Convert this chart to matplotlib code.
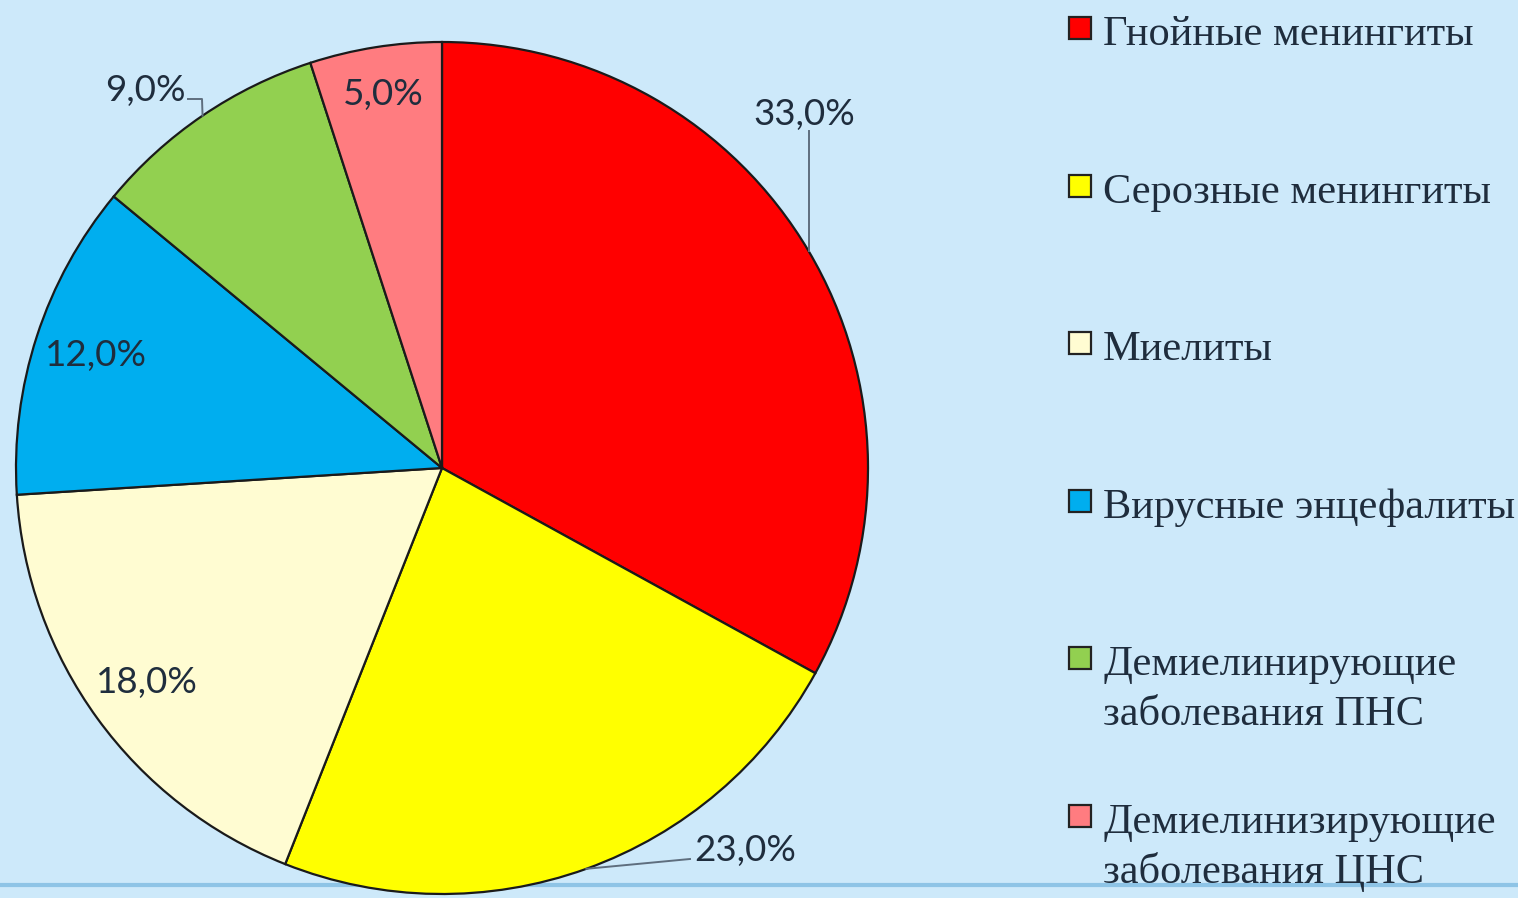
import numpy as np
import matplotlib.pyplot as plt
from matplotlib.patches import Rectangle

# -----------------------------
# data
# -----------------------------
categories = [
    "Гнойные менингиты",
    "Серозные менингиты",
    "Миелиты",
    "Вирусные энцефалиты",
    "Демиелинирующие\nзаболевания ПНС",
    "Демиелинизирующие\nзаболевания ЦНС",
]
shares = [33.0, 23.0, 18.0, 12.0, 9.0, 5.0]
colors = ["#FF0000", "#FFFF00", "#FFFCD2", "#00AEEF", "#92D050", "#FF7C80"]

# -----------------------------
# layout (pixels, y measured from top)
# -----------------------------
W, H = 1518, 898
CX, CY, R = 442, 468, 426
BG = "#CDE9FA"
TXT = "#1F2D3D"

# labels inside the wedge: fraction of radius
inside_r = {2: 0.855, 3: 0.855, 5: 0.888}
# labels outside: text centre and leader path (from wedge edge outward)
outside = {
    0: ((804, 115), [(811, 131)]),
    1: ((745, 851), [(690, 859)]),
    4: ((145, 90), [(202, 99), (188, 99)]),
}


def fy(y):
    return H - y


fig = plt.figure(figsize=(W / 100, H / 100), dpi=100)
fig.patch.set_facecolor(BG)
ax = fig.add_axes([0, 0, 1, 1])
ax.set_facecolor(BG)

# thin frame line near the bottom, behind the pie
ax.axhline(fy(885), color="#8EC4E6", lw=3, zorder=0)

wedges, _ = ax.pie(
    shares, colors=colors, startangle=90, counterclock=False,
    center=(CX, fy(CY)), radius=R,
    wedgeprops=dict(edgecolor="#1A1A1A", linewidth=1.6),
)
ax.set_xlim(0, W)
ax.set_ylim(0, H)
ax.axis("off")

for i, (w, v) in enumerate(zip(wedges, shares)):
    label = f"{v:.1f}%".replace(".", ",")
    mid = np.deg2rad((w.theta1 + w.theta2) / 2)
    ex = CX + R * np.cos(mid)
    ey = fy(CY) + R * np.sin(mid)
    if i in inside_r:
        f = inside_r[i]
        ax.text(CX + f * R * np.cos(mid), fy(CY) + f * R * np.sin(mid), label,
                ha="center", va="center", fontsize=26.5, family="Lato", color=TXT)
    else:
        (tx, ty), path = outside[i]
        xs = [ex] + [p[0] for p in path]
        ys = [ey] + [fy(p[1]) for p in path]
        if i == 0:
            xs[1] = ex
        ax.plot(xs, ys, color="#5E6E7E", lw=1.4, zorder=3)
        ax.text(tx, fy(ty), label, ha="center", va="center", fontsize=26.5,
                family="Lato", color=TXT)

# legend drawn by hand so the marker sits on the first line
for i, (cat, c) in enumerate(zip(categories, colors)):
    base = 45 + 157.6 * i
    ax.add_patch(Rectangle((1069, fy(base - 6)), 22, 22, facecolor=c,
                           edgecolor="#222222", lw=1.6, zorder=4))
    for k, line in enumerate(cat.split("\n")):
        ax.text(1103, fy(base + 50 * k), line, ha="left", va="baseline",
                fontsize=30.5, family="Liberation Serif", color=TXT)

fig.savefig("out.png", dpi=100, facecolor=BG)
